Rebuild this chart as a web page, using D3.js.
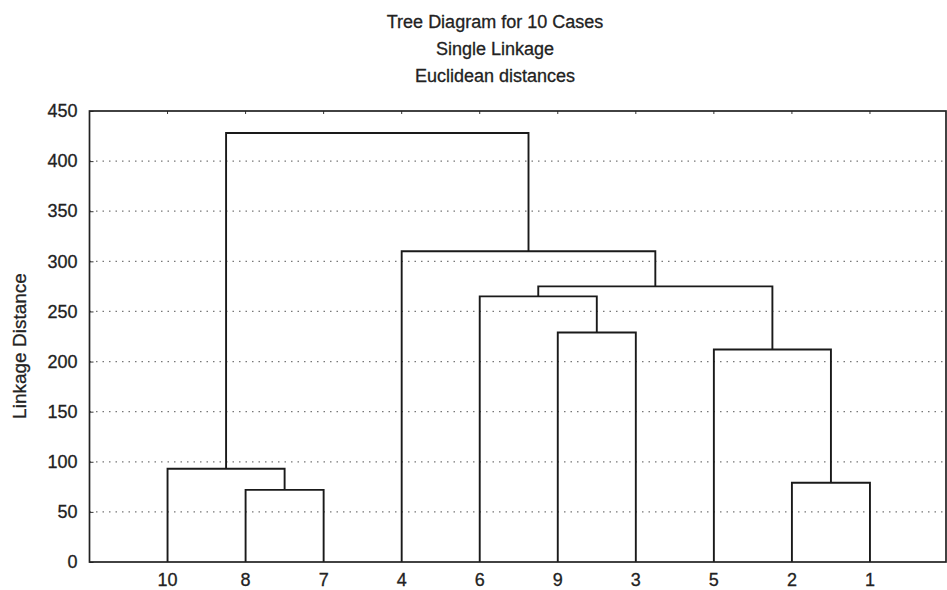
<!DOCTYPE html>
<html>
<head>
<meta charset="utf-8">
<script src="https://cdn.jsdelivr.net/npm/d3@7"></script>
<style>
    body { margin: 0; background: #fff; }
    text { font-family: "Liberation Sans", Arial, sans-serif; fill: #222; stroke: #222; stroke-width: 0.3px; }
</style>
</head>
<body>
<div id="vis"></div>
<script>
// leaf order along the x axis
const caseLabels = ["10", "8", "7", "4", "6", "9", "3", "5", "2", "1"];

// merge steps: cluster "c" + (i + 1) joins linkA[i] and linkB[i] at linkDist[i]
const linkA = ["8", "10", "2", "9", "6", "5", "c5", "4", "c2"];
const linkB = ["7", "c1", "1", "3", "c4", "c3", "c6", "c7", "c8"];
const linkDist = [72, 93, 79, 229, 265, 212, 275, 310, 428];

const yTicks = [0, 50, 100, 150, 200, 250, 300, 350, 400, 450];
const titleLines = ["Tree Diagram for 10 Cases", "Single Linkage", "Euclidean distances"];

const width = 947, height = 590;
const plotL = 89.5, plotR = 946, plotT = 111, plotB = 562;

const svg = d3.select("#vis").append("svg")
    .attr("width", width)
    .attr("height", height);

const x = d3.scaleLinear().domain([0, caseLabels.length + 1]).range([plotL, 948]);
const y = d3.scaleLinear().domain([0, 450]).range([plotB, plotT]);

// dotted grid
svg.append("g")
    .selectAll("line")
    .data(yTicks.filter(d => d > 0 && d < 450))
    .join("line")
    .attr("x1", plotL).attr("x2", plotR)
    .attr("y1", d => y(d)).attr("y2", d => y(d))
    .attr("stroke", "#777")
    .attr("stroke-width", 1.2)
    .attr("stroke-dasharray", "1.5 5");

// y axis labels + small inward ticks
const yAxis = svg.append("g")
    .attr("transform", `translate(${plotL},0)`)
    .call(d3.axisLeft(y).tickValues(yTicks).tickSize(-4).tickPadding(12));
yAxis.select(".domain").remove();
yAxis.selectAll("line").attr("stroke", "#333");
yAxis.selectAll("text")
    .style("font-size", "18px")
    .attr("font-family", null)
    .attr("fill", "#222");

// top border ticks at leaf positions
svg.append("g")
    .selectAll("line")
    .data(caseLabels)
    .join("line")
    .attr("x1", (d, i) => x(i + 1)).attr("x2", (d, i) => x(i + 1))
    .attr("y1", plotT).attr("y2", plotT + 3)
    .attr("stroke", "#333");

// leaf labels
svg.append("g")
    .selectAll("text")
    .data(caseLabels)
    .join("text")
    .attr("x", (d, i) => x(i + 1))
    .attr("y", 585.5)
    .attr("text-anchor", "middle")
    .style("font-size", "18px")
    .text(d => d);

// work out node positions from the merge steps
const nodes = {};
caseLabels.forEach((c, i) => { nodes[c] = { x: x(i + 1), h: 0 }; });

const links = [];
linkDist.forEach((h, i) => {
    const a = nodes[linkA[i]], b = nodes[linkB[i]];
    links.push({ a, b, h });
    nodes["c" + (i + 1)] = { x: (a.x + b.x) / 2, h: h };
});

svg.append("g")
    .selectAll("path")
    .data(links)
    .join("path")
    .attr("d", d => `M${d.a.x},${y(d.a.h)}V${y(d.h)}H${d.b.x}V${y(d.b.h)}`)
    .attr("fill", "none")
    .attr("stroke", "#1a1a1a")
    .attr("stroke-width", 1.9);

// frame
svg.append("rect")
    .attr("x", plotL).attr("y", plotT)
    .attr("width", plotR - plotL).attr("height", plotB - plotT)
    .attr("fill", "none")
    .attr("stroke", "#222")
    .attr("stroke-width", 1.7);

// titles
svg.append("g")
    .selectAll("text")
    .data(titleLines)
    .join("text")
    .attr("x", 495)
    .attr("y", (d, i) => 27.5 + i * 27.3)
    .attr("text-anchor", "middle")
    .style("font-size", "18px")
    .text(d => d);

svg.append("text")
    .attr("transform", "translate(26,346) rotate(-90)")
    .attr("text-anchor", "middle")
    .style("font-size", "19px")
    .text("Linkage Distance");
</script>
</body>
</html>
